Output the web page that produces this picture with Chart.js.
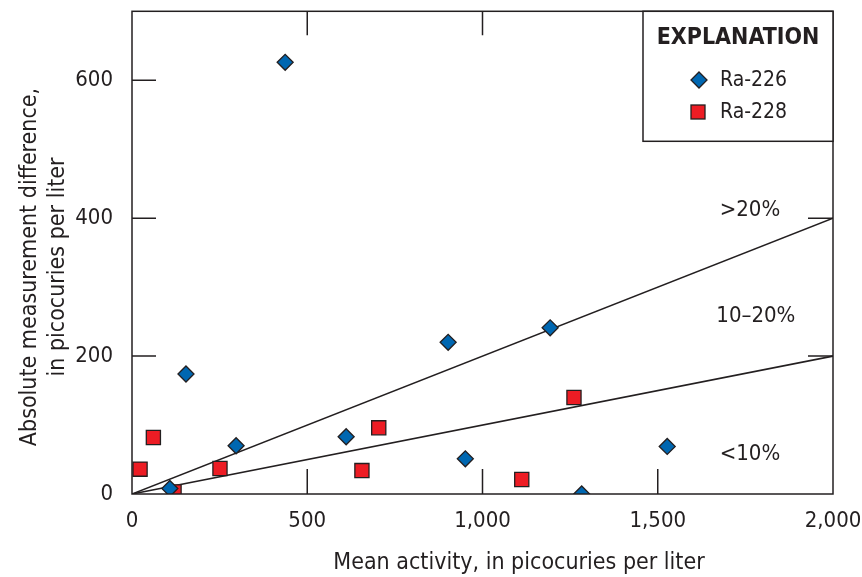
<!DOCTYPE html>
<html>
<head>
<meta charset="utf-8">
<script src="https://cdn.jsdelivr.net/npm/chart.js@4.4.1/dist/chart.umd.min.js"></script>
<style>
  html, body { margin: 0; padding: 0; background: #fff; }
  #wrap { width: 862px; height: 577px; }
</style>
</head>
<body>
<div id="wrap"><canvas id="c" width="862" height="577"></canvas></div>
<script>
// --- data ---
const ra226 = [
  { x: 108, y: 8 }, { x: 154, y: 174 }, { x: 297, y: 70 }, { x: 437, y: 626 },
  { x: 611, y: 83 }, { x: 902, y: 220 }, { x: 951, y: 51 }, { x: 1193, y: 241 },
  { x: 1283, y: 0 }, { x: 1527, y: 69 },
];
const ra228 = [
  { x: 23, y: 36 }, { x: 61, y: 82 }, { x: 120, y: 3 }, { x: 251, y: 37 },
  { x: 656, y: 34 }, { x: 704, y: 96 }, { x: 1112, y: 21 }, { x: 1261, y: 140 },
];
const line20 = [{ x: 0, y: 0 }, { x: 2000, y: 400 }];
const line10 = [{ x: 0, y: 0 }, { x: 2000, y: 200 }];

const xTicks = [0, 500, 1000, 1500, 2000];
const yTicks = [0, 200, 400, 600];

const zoneLabels = ['>20%', '10\u201320%', '<10%'];
const zoneX = [1763, 1780, 1763];
const zoneY = [411, 258, 58];

const FONT = "'DejaVu Sans Condensed', 'Liberation Sans Narrow', sans-serif";
const INK = '#231f20';
const BLUE = '#0067b1';
const RED = '#ed1c24';

const fmt = (v) => v.toLocaleString('en-US');

// frame, inward ticks, zone labels, axis titles and the explanation box
const decor = {
  id: 'decor',
  afterDraw(chart) {
    const { ctx, chartArea: a, scales: { x, y } } = chart;
    ctx.save();
    ctx.strokeStyle = INK;
    ctx.lineWidth = 1.5;
    ctx.strokeRect(a.left, a.top, a.right - a.left, a.bottom - a.top);

    ctx.beginPath();
    xTicks.slice(1, -1).forEach((v) => {
      const px = x.getPixelForValue(v);
      ctx.moveTo(px, a.bottom); ctx.lineTo(px, a.bottom - 25);
      ctx.moveTo(px, a.top); ctx.lineTo(px, a.top + 24);
    });
    yTicks.slice(1).forEach((v) => {
      const py = y.getPixelForValue(v);
      ctx.moveTo(a.left, py); ctx.lineTo(a.left + 24, py);
      ctx.moveTo(a.right, py); ctx.lineTo(a.right - 25, py);
    });
    ctx.stroke();

    // zone labels
    ctx.fillStyle = INK;
    ctx.font = '22px ' + FONT;
    ctx.textAlign = 'center';
    ctx.textBaseline = 'middle';
    zoneLabels.forEach((t, i) => {
      ctx.fillText(t, x.getPixelForValue(zoneX[i]), y.getPixelForValue(zoneY[i]));
    });

    // axis titles
    ctx.font = '23px ' + FONT;
    ctx.fillText('Mean activity, in picocuries per liter', 519, 563);
    ctx.save();
    ctx.translate(44, 267);
    ctx.rotate(-Math.PI / 2);
    ctx.fillText('Absolute measurement difference,', 0, -14);
    ctx.fillText('in picocuries per liter', 0, 14);
    ctx.restore();

    // explanation box
    const bx = 643, by = a.top, bw = a.right - 643, bh = 130;
    ctx.fillStyle = '#fff';
    ctx.fillRect(bx, by, bw, bh);
    ctx.strokeRect(bx, by, bw, bh);
    ctx.fillStyle = INK;
    ctx.font = 'bold 23px ' + FONT;
    ctx.fillText('EXPLANATION', 738, 38);

    ctx.lineWidth = 1.3;
    ctx.fillStyle = BLUE;
    ctx.beginPath();
    ctx.moveTo(699, 72); ctx.lineTo(707, 80); ctx.lineTo(699, 88); ctx.lineTo(691, 80);
    ctx.closePath(); ctx.fill(); ctx.stroke();
    ctx.fillStyle = RED;
    ctx.fillRect(691, 105, 14, 14);
    ctx.strokeRect(691, 105, 14, 14);

    ctx.fillStyle = INK;
    ctx.font = '21px ' + FONT;
    ctx.textAlign = 'left';
    ctx.fillText('Ra-226', 720, 81);
    ctx.fillText('Ra-228', 720, 113);
    ctx.restore();
  },
};

new Chart(document.getElementById('c'), {
  type: 'scatter',
  data: {
    datasets: [
      {
        label: 'Ra-226', data: ra226, order: 0,
        pointStyle: 'rectRot', pointRadius: 8, pointHoverRadius: 8,
        backgroundColor: BLUE, borderColor: INK, borderWidth: 1.3,
      },
      {
        label: 'Ra-228', data: ra228, order: 1,
        pointStyle: 'rect', pointRadius: 10, pointHoverRadius: 10,
        backgroundColor: RED, borderColor: INK, borderWidth: 1.3,
      },
      {
        type: 'line', label: '20%', data: line20, order: 2,
        borderColor: INK, borderWidth: 1.6, pointRadius: 0, fill: false,
      },
      {
        type: 'line', label: '10%', data: line10, order: 3,
        borderColor: INK, borderWidth: 1.6, pointRadius: 0, fill: false,
      },
    ],
  },
  options: {
    responsive: false,
    animation: false,
    layout: { padding: { top: 7, right: 29, left: 0, bottom: 0 } },
    plugins: { legend: { display: false }, tooltip: { enabled: false } },
    scales: {
      x: {
        type: 'linear', min: 0, max: 2000,
        afterBuildTicks: (s) => { s.ticks = xTicks.map((v) => ({ value: v })); },
        afterFit: (s) => { s.height = 83; s.paddingLeft = 0; s.paddingRight = 0; },
        grid: { display: false, drawTicks: false, tickLength: 0 },
        border: { display: false },
        ticks: { color: INK, font: { family: FONT, size: 22 }, padding: 14, maxRotation: 0, callback: (v) => fmt(v) },
      },
      y: {
        type: 'linear', min: 0, max: 700,
        afterBuildTicks: (s) => { s.ticks = yTicks.map((v) => ({ value: v })); },
        afterFit: (s) => { s.width = 132; s.paddingTop = 0; s.paddingBottom = 0; },
        grid: { display: false, drawTicks: false, tickLength: 0 },
        border: { display: false },
        ticks: { color: INK, font: { family: FONT, size: 22 }, padding: 19, callback: (v) => fmt(v) },
      },
    },
  },
  plugins: [decor],
});
</script>
</body>
</html>
